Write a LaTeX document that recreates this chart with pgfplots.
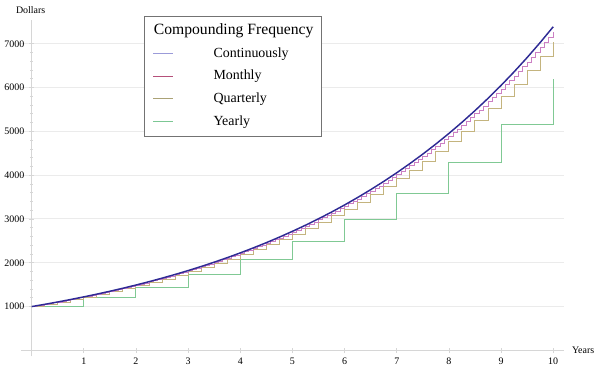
\documentclass[border=0pt]{standalone}
\usepackage{fontspec}
\setmainfont{Liberation Serif}
\usepackage{pgfplots}
\pgfplotsset{compat=1.18}
\definecolor{ccont}{HTML}{2E2A94}
\definecolor{cmon}{HTML}{CC80C4}
\definecolor{cqua}{HTML}{C4B47E}
\definecolor{cyea}{HTML}{80C994}
\definecolor{lcont}{HTML}{9B9BD9}
\definecolor{lmon}{HTML}{B5507A}
\definecolor{lqua}{HTML}{ABA276}
\definecolor{lyea}{HTML}{7CC794}
\definecolor{axgray}{HTML}{D6D6D6}
\definecolor{gridgray}{HTML}{EBEBEB}
\begin{document}
\begin{tikzpicture}
\begin{axis}[
  scale only axis, width=408.75pt, height=253.5pt,
  xmin=-0.2, xmax=10.2, ymin=-136, ymax=7545,
  axis lines=middle, axis line style={-, axgray, line width=1pt},
  xtick={1,2,...,10}, ytick={1000,2000,...,7000},
  minor y tick num=4,
  ymajorgrids, major grid style={gridgray, line width=0.75pt},
  tick style={axgray, line width=0.6pt},
  major tick length=4pt, minor tick length=2.5pt,
  ticklabel style={font=\fontsize{7.5}{9}\selectfont, text=black},
  /pgf/number format/assume math mode=true,
  scaled y ticks=false,
  yticklabel style={/pgf/number format/1000 sep={}},
  clip=false,
  legend cell align=left,
  legend style={at={(axis description cs:0.227,1.012)}, anchor=north west,
    draw=black!55, line width=0.5pt, fill=white, inner sep=6pt,
    font=\fontsize{10.5}{12}\selectfont, row sep=6.5pt,
    /tikz/every odd column/.append style={column sep=30pt},
    nodes={inner sep=0pt, text height=8pt, text depth=2.5pt}},
  legend image code/.code={\draw[#1, line width=0.9pt] (0pt,0pt) -- (15pt,0pt);},
]
\addlegendimage{empty legend}
\addlegendentry{\hspace*{-45pt}\fontsize{11.8}{13}\selectfont Compounding Frequency}
\addlegendimage{draw=lcont}
\addlegendentry{Continuously}
\addlegendimage{draw=lmon}
\addlegendentry{Monthly}
\addlegendimage{draw=lqua}
\addlegendentry{Quarterly}
\addlegendimage{draw=lyea}
\addlegendentry{Yearly}
% Yearly
\addplot[const plot, cyea, line width=0.75pt, forget plot] table {
0 1000
1 1200
2 1440
3 1728
4 2073.6
5 2488.32
6 2985.98
7 3583.18
8 4299.82
9 5159.78
10 6191.74
};
% Quarterly
\addplot[const plot, cqua, line width=0.75pt, forget plot] table {
0 1000
0.25 1050
0.5 1102.50
0.75 1157.63
1 1215.51
1.25 1276.28
1.5 1340.10
1.75 1407.10
2 1477.46
2.25 1551.33
2.5 1628.89
2.75 1710.34
3 1795.86
3.25 1885.65
3.5 1979.93
3.75 2078.93
4 2182.87
4.25 2292.02
4.5 2406.62
4.75 2526.95
5 2653.30
5.25 2785.96
5.5 2925.26
5.75 3071.52
6 3225.10
6.25 3386.35
6.5 3555.67
6.75 3733.46
7 3920.13
7.25 4116.14
7.5 4321.94
7.75 4538.04
8 4764.94
8.25 5003.19
8.5 5253.35
8.75 5516.02
9 5791.82
9.25 6081.41
9.5 6385.48
9.75 6704.75
10 7039.99
};
% Monthly
\addplot[const plot, cmon, line width=0.75pt, forget plot] table {
0 1000
0.0833 1016.67
0.1667 1033.61
0.25 1050.84
0.3333 1068.35
0.4167 1086.16
0.5 1104.26
0.5833 1122.66
0.6667 1141.38
0.75 1160.40
0.8333 1179.74
0.9167 1199.40
1 1219.39
1.0833 1239.71
1.1667 1260.38
1.25 1281.38
1.3333 1302.74
1.4167 1324.45
1.5 1346.53
1.5833 1368.97
1.6667 1391.78
1.75 1414.98
1.8333 1438.56
1.9167 1462.54
2 1486.91
2.0833 1511.70
2.1667 1536.89
2.25 1562.51
2.3333 1588.55
2.4167 1615.03
2.5 1641.94
2.5833 1669.31
2.6667 1697.13
2.75 1725.41
2.8333 1754.17
2.9167 1783.41
3 1813.13
3.0833 1843.35
3.1667 1874.07
3.25 1905.31
3.3333 1937.06
3.4167 1969.34
3.5 2002.17
3.5833 2035.54
3.6667 2069.46
3.75 2103.95
3.8333 2139.02
3.9167 2174.67
4 2210.92
4.0833 2247.77
4.1667 2285.23
4.25 2323.32
4.3333 2362.04
4.4167 2401.41
4.5 2441.43
4.5833 2482.12
4.6667 2523.49
4.75 2565.55
4.8333 2608.31
4.9167 2651.78
5 2695.97
5.0833 2740.90
5.1667 2786.58
5.25 2833.03
5.3333 2880.25
5.4167 2928.25
5.5 2977.06
5.5833 3026.67
5.6667 3077.12
5.75 3128.40
5.8333 3180.54
5.9167 3233.55
6 3287.44
6.0833 3342.23
6.1667 3397.93
6.25 3454.57
6.3333 3512.14
6.4167 3570.68
6.5 3630.19
6.5833 3690.69
6.6667 3752.21
6.75 3814.74
6.8333 3878.32
6.9167 3942.96
7 4008.68
7.0833 4075.49
7.1667 4143.42
7.25 4212.47
7.3333 4282.68
7.4167 4354.06
7.5 4426.63
7.5833 4500.40
7.6667 4575.41
7.75 4651.67
7.8333 4729.20
7.9167 4808.02
8 4888.15
8.0833 4969.62
8.1667 5052.45
8.25 5136.65
8.3333 5222.26
8.4167 5309.30
8.5 5397.79
8.5833 5487.75
8.6667 5579.22
8.75 5672.20
8.8333 5766.74
8.9167 5862.85
9 5960.56
9.0833 6059.90
9.1667 6160.90
9.25 6263.58
9.3333 6367.98
9.4167 6474.11
9.5 6582.01
9.5833 6691.71
9.6667 6803.24
9.75 6916.63
9.8333 7031.91
9.9167 7149.10
10 7268.26
};
% Continuously
\addplot[ccont, line width=1.1pt, forget plot] table {
0 1000
0.25 1051.27
0.5 1105.17
0.75 1161.83
1 1221.40
1.25 1284.03
1.5 1349.86
1.75 1419.07
2 1491.82
2.25 1568.31
2.5 1648.72
2.75 1733.25
3 1822.12
3.25 1915.54
3.5 2013.75
3.75 2117.00
4 2225.54
4.25 2339.65
4.5 2459.60
4.75 2585.71
5 2718.28
5.25 2857.65
5.5 3004.17
5.75 3158.19
6 3320.12
6.25 3490.34
6.5 3669.30
6.75 3857.43
7 4055.20
7.25 4263.11
7.5 4481.69
7.75 4711.47
8 4953.03
8.25 5206.98
8.5 5473.95
8.75 5754.60
9 6049.65
9.25 6359.82
9.5 6685.89
9.75 7028.69
10 7389.06
};
\node[font=\fontsize{7.5}{9}\selectfont] at (axis cs:-0.019,7773) {Dollars};
\node[font=\fontsize{7.5}{9}\selectfont] at (axis cs:10.573,0) {Years};
\path (axis cs:-0.5534,-500) rectangle (axis cs:10.897,8000);
\end{axis}
\end{tikzpicture}
\end{document}
